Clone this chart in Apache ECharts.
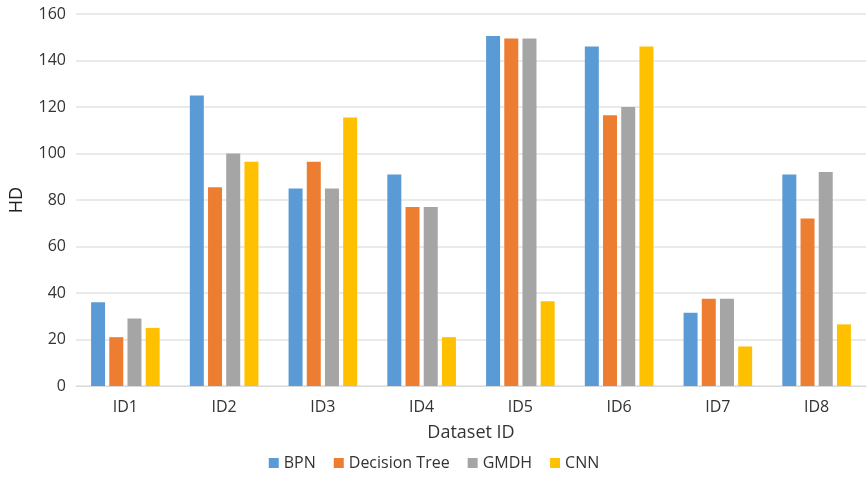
<!DOCTYPE html>
<html>
<head>
<meta charset="utf-8">
<script src="https://cdn.jsdelivr.net/npm/echarts@6/dist/echarts.min.js"></script>
<style>
  html, body { margin: 0; padding: 0; background: #fff; }
  #chart { width: 868px; height: 479px; }
</style>
</head>
<body>
<div id="chart"></div>
<script>
// Dataset categories and HD values per method
const categories = ['ID1', 'ID2', 'ID3', 'ID4', 'ID5', 'ID6', 'ID7', 'ID8'];
const bpn = [36, 125, 85, 91, 150.5, 146, 31.5, 91];
const decisionTree = [21, 85.5, 96.5, 77, 149.5, 116.5, 37.5, 72];
const gmdh = [29, 100, 85, 77, 149.5, 120, 37.5, 92];
const cnn = [25, 96.5, 115.5, 21, 36.5, 146, 17, 26.5];

const seriesNames = ['BPN', 'Decision Tree', 'GMDH', 'CNN'];
const seriesData = [bpn, decisionTree, gmdh, cnn];
const colors = ['#5B9BD5', '#ED7D31', '#A5A5A5', '#FFC000'];

const font = '"Open Sans", "Noto Sans", sans-serif';
const textColor = '#333333';

const chart = echarts.init(document.getElementById('chart'), null, { renderer: 'canvas' });
chart.setOption({
  animation: false,
  color: colors,
  grid: { left: 72, right: 2, top: 14, bottom: 93, containLabel: false },
  legend: {
    bottom: 3,
    left: 'center',
    itemWidth: 10,
    itemHeight: 10,
    itemGap: 18,
    icon: 'rect',
    textStyle: { fontFamily: font, fontSize: 16, color: textColor },
    data: seriesNames
  },
  xAxis: {
    type: 'category',
    data: categories,
    name: 'Dataset ID',
    nameLocation: 'middle',
    nameGap: 38,
    nameTextStyle: { fontFamily: font, fontSize: 18, color: textColor },
    axisLine: { lineStyle: { color: '#D9D9D9', width: 1 } },
    axisTick: { show: false },
    axisLabel: { fontFamily: font, fontSize: 16, color: textColor, margin: 13 }
  },
  yAxis: {
    type: 'value',
    min: 0,
    max: 160,
    interval: 20,
    name: 'HD',
    nameLocation: 'middle',
    nameRotate: 90,
    nameGap: 50,
    nameTextStyle: { fontFamily: font, fontSize: 18, color: '#202020' },
    axisLine: { show: false },
    axisTick: { show: false },
    axisLabel: { fontFamily: font, fontSize: 16, color: textColor, margin: 10 },
    splitLine: { lineStyle: { color: '#E3E3E3', width: 1.5 } }
  },
  series: seriesNames.map((name, i) => ({
    name: name,
    type: 'bar',
    data: seriesData[i],
    barWidth: 14,
    barGap: '30%',
    itemStyle: { color: colors[i] }
  }))
});
</script>
</body>
</html>
